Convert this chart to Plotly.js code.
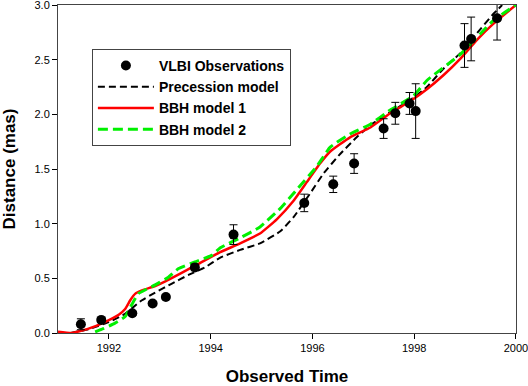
<!DOCTYPE html>
<html>
<head>
<meta charset="utf-8">
<script src="https://cdn.plot.ly/plotly-3.0.1.min.js"></script>
<style>
  html, body { margin: 0; padding: 0; background: #fff; }
  #plot { width: 528px; height: 386px; }
</style>
</head>
<body>
<div id="plot"></div>
<script>
// VLBI observations
var obsYear = [1991.45, 1991.85, 1992.46, 1992.86, 1993.12, 1993.69, 1994.45, 1995.84, 1996.41, 1996.82, 1997.40, 1997.63, 1997.91, 1998.03, 1998.99, 1999.12, 1999.63];
var obsDist = [0.08, 0.12, 0.18, 0.27, 0.33, 0.60, 0.90, 1.19, 1.36, 1.55, 1.87, 2.01, 2.10, 2.03, 2.63, 2.69, 2.88];
var obsErr  = [0.05, 0.02, 0.02, 0.02, 0.02, 0.03, 0.09, 0.08, 0.075, 0.09, 0.09, 0.10, 0.10, 0.25, 0.20, 0.20, 0.20];

// Precession model
var precYear = [1991.25, 1991.6, 1992.0, 1992.3, 1992.45, 1992.65, 1992.91, 1993.23, 1993.56, 1993.89, 1994.19, 1994.58, 1994.97, 1995.37, 1995.63, 1995.96, 1996.22, 1996.55, 1996.87, 1997.14, 1997.53, 1997.92, 1998.25, 1998.58, 1998.91, 1999.23, 1999.56, 1999.73];
var precDist = [0.0, 0.035, 0.10, 0.17, 0.225, 0.30, 0.37, 0.45, 0.53, 0.60, 0.69, 0.76, 0.82, 0.93, 1.06, 1.28, 1.46, 1.64, 1.79, 1.90, 2.02, 2.13, 2.25, 2.42, 2.56, 2.74, 2.92, 3.0];

// BBH model 1
var bbh1Year = [1991.0, 1991.27, 1991.6, 1991.92, 1992.2, 1992.32, 1992.42, 1992.52, 1992.65, 1992.91, 1993.1, 1993.43, 1993.79, 1994.19, 1994.58, 1994.97, 1995.3, 1995.63, 1995.89, 1996.15, 1996.35, 1996.74, 1997.14, 1997.53, 1997.92, 1998.25, 1998.58, 1998.91, 1999.23, 1999.56, 2000.0];
var bbh1Dist = [0.012, 0.0, 0.04, 0.10, 0.17, 0.22, 0.30, 0.36, 0.39, 0.43, 0.47, 0.55, 0.64, 0.74, 0.82, 0.91, 1.04, 1.21, 1.38, 1.55, 1.66, 1.79, 1.88, 2.01, 2.12, 2.23, 2.36, 2.51, 2.68, 2.83, 3.0];

// BBH model 2
var bbh2Year = [1991.73, 1991.89, 1992.12, 1992.32, 1992.45, 1992.58, 1992.91, 1993.17, 1993.37, 1993.69, 1994.02, 1994.19, 1994.58, 1994.97, 1995.37, 1995.69, 1996.08, 1996.35, 1996.74, 1997.14, 1997.53, 1997.99, 1998.25, 1998.91, 1999.56, 2000.0];
var bbh2Dist = [0.01, 0.04, 0.09, 0.15, 0.26, 0.36, 0.44, 0.51, 0.59, 0.65, 0.71, 0.78, 0.87, 0.97, 1.14, 1.31, 1.52, 1.70, 1.82, 1.91, 2.04, 2.17, 2.31, 2.55, 2.86, 3.0];

var font = 'Liberation Sans, Arial, sans-serif';

var precTrace = {
    x: precYear, y: precDist,
    name: 'Precession model',
    mode: 'lines', type: 'scatter',
    line: {color: '#000', width: 2, dash: '7px,4px', shape: 'spline', smoothing: 0.4},
    legendrank: 2
};

var bbh1Trace = {
    x: bbh1Year, y: bbh1Dist,
    name: 'BBH model 1',
    mode: 'lines', type: 'scatter',
    line: {color: '#ff0000', width: 2.5, shape: 'spline', smoothing: 0.4},
    legendrank: 3
};

var bbh2Trace = {
    x: bbh2Year, y: bbh2Dist,
    name: 'BBH model 2',
    mode: 'lines', type: 'scatter',
    line: {color: '#00f000', width: 3, dash: '10px,5px', shape: 'spline', smoothing: 0.4},
    legendrank: 4
};

var obsTrace = {
    x: obsYear, y: obsDist,
    name: 'VLBI Observations',
    mode: 'markers', type: 'scatter',
    marker: {color: '#000', size: 10},
    error_y: {type: 'data', array: obsErr, visible: true, color: '#000', thickness: 1, width: 4},
    legendrank: 1
};

var data = [precTrace, bbh1Trace, bbh2Trace, obsTrace];

var layout = {
    width: 528,
    height: 386,
    margin: {l: 58, r: 12, t: 5, b: 53},
    paper_bgcolor: '#fff',
    plot_bgcolor: '#fff',
    font: {family: font, color: '#000', size: 11},
    showlegend: true,
    legend: {
        x: 0.074, y: 0.866, xanchor: 'left', yanchor: 'top',
        bgcolor: '#fff', bordercolor: '#444', borderwidth: 1,
        font: {family: font, size: 14, color: '#000', weight: 'bold'},
        itemwidth: 56,
        tracegroupgap: 0
    },
    xaxis: {
        title: {text: '<b>Observed Time</b>', font: {family: font, size: 17, color: '#000'}, standoff: 24},
        range: [1991, 2000.002],
        tickvals: [1992, 1994, 1996, 1998, 2000],
        ticks: 'outside', ticklen: 5, tickcolor: '#000',
        ticklabeloverflow: 'allow',
        showgrid: false, zeroline: false,
        showline: true, linecolor: '#444', linewidth: 1, mirror: true,
        tickfont: {family: font, size: 11, color: '#000'}
    },
    yaxis: {
        title: {text: '<b>Distance (mas)</b>', font: {family: font, size: 17, color: '#000'}, standoff: 17},
        range: [0, 3.0005],
        tickvals: [0, 0.5, 1, 1.5, 2, 2.5, 3],
        tickformat: '.1f',
        ticks: 'outside', ticklen: 5, tickcolor: '#000',
        ticklabeloverflow: 'allow',
        showgrid: false, zeroline: false,
        showline: true, linecolor: '#444', linewidth: 1, mirror: true,
        tickfont: {family: font, size: 11, color: '#000'}
    }
};

Plotly.newPlot('plot', data, layout, {displayModeBar: false, staticPlot: true});
</script>
</body>
</html>
